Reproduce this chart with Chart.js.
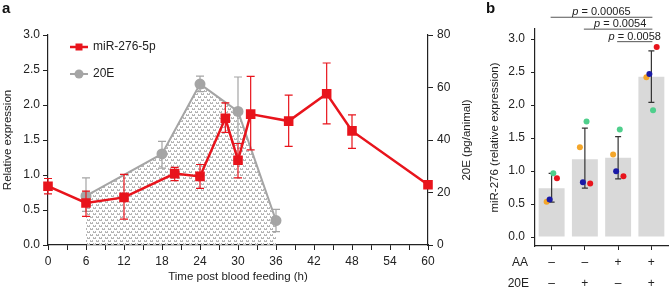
<!DOCTYPE html>
<html>
<head>
<meta charset="utf-8">
<script src="https://cdn.jsdelivr.net/npm/chart.js@4.4.0/dist/chart.umd.min.js"></script>
<style>
  body { margin: 0; background: #fff; width: 672px; height: 289px; overflow: hidden; position: relative;
         font-family: "Liberation Sans", Arial, sans-serif; }
  canvas { position: absolute; top: 0; }
  #chartA { left: 0; }
  #chartB { left: 480px; }
  .panel { position: absolute; font-weight: bold; font-size: 15px; color: #111; }
</style>
</head>
<body>
<canvas id="chartA" width="480" height="289"></canvas>
<canvas id="chartB" width="192" height="289"></canvas>
<div class="panel" style="left:2px;top:-1px">a</div>
<div class="panel" style="left:486px;top:-1px">b</div>
<script>
  const RED = '#e8141c';
  const GRAY = '#a5a5a5';
  const INK = '#222';

  // panel a: miR-276-5p, relative expression
  const mirHours = [0, 6, 12, 20, 24, 28, 30, 32, 38, 44, 48, 60];
  const mirExpr = [0.84, 0.60, 0.68, 1.02, 0.98, 1.81, 1.21, 1.87, 1.77, 2.16, 1.63, 0.86];
  const mirLow = [0.73, 0.41, 0.37, 0.92, 0.81, 1.61, 0.96, 1.36, 1.41, 1.73, 1.38, 0.83];
  const mirHigh = [0.95, 0.77, 1.01, 1.11, 1.15, 2.03, 1.45, 2.41, 2.14, 2.60, 1.86, 0.89];

  // panel a: 20E titre, pg/animal
  const ecdHours = [6, 18, 24, 30, 36];
  const ecdTitre = [18.7, 34.7, 61.3, 50.9, 9.3];
  const ecdLow = [12.8, 29.3, 58.4, 38.7, 5.1];
  const ecdHigh = [25.6, 39.5, 64.3, 64.0, 13.6];

  // panel b: treatment groups
  const aaRow = ['–', '–', '+', '+'];
  const e20Row = ['–', '+', '–', '+'];
  const barMeans = [0.74, 1.18, 1.20, 2.43];
  const barLow = [0.53, 0.74, 0.88, 2.04];
  const barHigh = [0.965, 1.65, 1.52, 2.82];
  const repOrange = [0.535, 1.36, 1.25, 2.42];
  const repBlue = [0.57, 0.83, 0.995, 2.47];
  const repGreen = [0.965, 1.75, 1.63, 1.92];
  const repRed = [0.89, 0.81, 0.92, 2.88];
  const pValues = ['0.00065', '0.0054', '0.0058'];
  const pFrom = [0, 1, 2];
  const pTo = [3, 3, 3];

  Chart.defaults.font.family = "'Liberation Sans', Arial, sans-serif";
  Chart.defaults.color = INK;

  function hatch() {
    const c = document.createElement('canvas');
    c.width = 6; c.height = 6;
    const g = c.getContext('2d');
    g.fillStyle = '#b4b4b4';
    [[0,0],[2,0],[1,1],[0,1],[2,1],[3,3],[5,3],[4,4],[3,4],[5,4]].forEach(([x, y]) => g.fillRect(x, y, 1, 1));
    return g.createPattern(c, 'repeat');
  }

  const errorBars = {
    id: 'errorBars',
    afterDatasetDraw(chart, args) {
      const ds = chart.data.datasets[args.index];
      if (!ds.err) return;
      const meta = args.meta;
      const ys = chart.scales[meta.yAxisID];
      const ctx = chart.ctx;
      ctx.save();
      ctx.strokeStyle = ds.err.color;
      ctx.lineWidth = ds.err.width;
      meta.data.forEach((el, j) => {
        const x = el.x;
        const y1 = ys.getPixelForValue(ds.err.low[j]);
        const y2 = ys.getPixelForValue(ds.err.high[j]);
        const h = ds.err.cap / 2;
        ctx.beginPath();
        ctx.moveTo(x, y1); ctx.lineTo(x, y2);
        ctx.moveTo(x - h, y1); ctx.lineTo(x + h, y1);
        ctx.moveTo(x - h, y2); ctx.lineTo(x + h, y2);
        ctx.stroke();
      });
      ctx.restore();
    }
  };

  // legend inside panel a + right axis title
  const extrasA = {
    id: 'extrasA',
    afterDraw(chart) {
      const ctx = chart.ctx;
      ctx.save();
      const rows = [47, 74];
      chart.data.datasets.forEach((ds, i) => {
        const y = rows[i];
        ctx.strokeStyle = ds.borderColor;
        ctx.lineWidth = ds.borderWidth;
        ctx.beginPath(); ctx.moveTo(70, y); ctx.lineTo(88, y); ctx.stroke();
        ctx.fillStyle = ds.pointBackgroundColor;
        if (ds.pointStyle === 'rect') ctx.fillRect(75.5, y - 3.5, 7, 7);
        else { ctx.beginPath(); ctx.arc(79, y, 4.5, 0, Math.PI * 2); ctx.fill(); }
        ctx.fillStyle = INK;
        ctx.font = "12px 'Liberation Sans', Arial, sans-serif";
        ctx.textBaseline = 'middle';
        ctx.fillText(ds.label, 93, y);
      });
      const y2 = chart.scales.y2;
      ctx.translate(y2.right - 13, (chart.chartArea.top + chart.chartArea.bottom) / 2);
      ctx.rotate(-Math.PI / 2);
      ctx.textAlign = 'center';
      ctx.textBaseline = 'middle';
      ctx.font = "11.5px 'Liberation Sans', Arial, sans-serif";
      ctx.fillText('20E (pg/animal)', 0, 0);
      ctx.restore();
    }
  };

  const axisGrid = { display: true, drawOnChartArea: false, drawTicks: true, tickLength: 5, color: INK, tickColor: INK, lineWidth: 1 };
  const axisBorder = { display: true, color: INK, width: 1.2 };

  new Chart(document.getElementById('chartA'), {
    type: 'line',
    data: {
      datasets: [
        {
          label: 'miR-276-5p',
          data: mirHours.map((h, i) => ({ x: h, y: mirExpr[i] })),
          yAxisID: 'y',
          borderColor: RED,
          backgroundColor: RED,
          pointBackgroundColor: RED,
          pointBorderColor: RED,
          borderWidth: 2.5,
          pointStyle: 'rect',
          pointRadius: 5,
          tension: 0,
          fill: false,
          clip: false,
          order: 0,
          err: { low: mirLow, high: mirHigh, color: RED, width: 1.2, cap: 8 }
        },
        {
          label: '20E',
          data: ecdHours.map((h, i) => ({ x: h, y: ecdTitre[i] })),
          yAxisID: 'y2',
          borderColor: GRAY,
          backgroundColor: hatch(),
          pointBackgroundColor: GRAY,
          pointBorderColor: GRAY,
          borderWidth: 2,
          pointStyle: 'circle',
          pointRadius: 4.5,
          tension: 0,
          fill: 'origin',
          clip: false,
          order: 1,
          err: { low: ecdLow, high: ecdHigh, color: GRAY, width: 1.2, cap: 8 }
        }
      ]
    },
    options: {
      responsive: false,
      animation: false,
      layout: { padding: { top: 35, left: 0, right: 0, bottom: 0 } },
      plugins: { legend: { display: false }, tooltip: { enabled: false } },
      scales: {
        x: {
          type: 'linear', min: 0, max: 60,
          grid: axisGrid, border: axisBorder,
          ticks: { stepSize: 3, autoSkip: false, maxRotation: 0, padding: 4, font: { size: 12 },
                   callback: v => (v % 6 === 0 ? v : '') },
          title: { display: true, text: 'Time post blood feeding (h)', font: { size: 11.5 }, padding: { top: 0, bottom: 5 } },
          afterFit: s => { s.height = 44; s.paddingLeft = 0; s.paddingRight = 0; }
        },
        y: {
          position: 'left', min: 0, max: 3,
          grid: axisGrid, border: axisBorder,
          ticks: { stepSize: 0.5, padding: 3, font: { size: 12 }, callback: v => v.toFixed(1) },
          title: { display: true, text: 'Relative expression', font: { size: 11.5 }, padding: { top: 1, bottom: 0 } },
          afterFit: s => { s.width = 48; s.paddingTop = 0; s.paddingBottom = 0; }
        },
        y2: {
          position: 'right', min: 0, max: 80,
          grid: axisGrid, border: axisBorder,
          ticks: { stepSize: 20, padding: 4, font: { size: 12 } },
          afterFit: s => { s.width = 52; s.paddingTop = 0; s.paddingBottom = 0; }
        }
      }
    },
    plugins: [errorBars, extrasA]
  });

  // p-value brackets and row titles for panel b
  const bracketLevels = [3.33, 3.15, 2.96];
  const extrasB = {
    id: 'extrasB',
    afterDraw(chart) {
      const ctx = chart.ctx;
      const xs = chart.scales.x, ys = chart.scales.y;
      ctx.save();
      pValues.forEach((p, i) => {
        const x1 = xs.getPixelForValue(pFrom[i]) - 1;
        const x2 = xs.getPixelForValue(pTo[i]) + 1;
        const y = ys.getPixelForValue(bracketLevels[i]);
        ctx.strokeStyle = '#555';
        ctx.lineWidth = 1;
        ctx.beginPath(); ctx.moveTo(x1, y); ctx.lineTo(x2, y); ctx.stroke();
        ctx.fillStyle = INK;
        ctx.textBaseline = 'alphabetic';
        ctx.font = "italic 11px 'Liberation Sans', Arial, sans-serif";
        const w1 = ctx.measureText('p').width;
        ctx.font = "11px 'Liberation Sans', Arial, sans-serif";
        const rest = ' = ' + p;
        const w2 = ctx.measureText(rest).width;
        const cx = (x1 + x2) / 2 + (i === 1 ? 2 : 0);
        const start = cx - (w1 + w2) / 2;
        ctx.font = "italic 11px 'Liberation Sans', Arial, sans-serif";
        ctx.fillText('p', start, y - 2);
        ctx.font = "11px 'Liberation Sans', Arial, sans-serif";
        ctx.fillText(rest, start + w1, y - 2);
      });
      ctx.font = "12px 'Liberation Sans', Arial, sans-serif";
      ctx.textAlign = 'right';
      ctx.textBaseline = 'middle';
      const yRow = xs.top + 4 + 2 + 10.5;
      ctx.fillText('AA', 48, yRow);
      ctx.fillText('20E', 49, yRow + 21);
      ctx.restore();
    }
  };

  const jitterOrange = -0.15, jitterBlue = -0.06, jitterGreen = 0.05, jitterRed = 0.16;
  const dots = (vals, dx, color, order) => ({
    type: 'scatter',
    data: vals.map((v, i) => ({ x: i + dx, y: v })),
    backgroundColor: color,
    borderWidth: 0,
    pointRadius: 3,
    clip: false,
    order: order
  });

  new Chart(document.getElementById('chartB'), {
    type: 'bar',
    data: {
      datasets: [
        {
          data: barMeans.map((v, i) => ({ x: i, y: v })),
          backgroundColor: '#d9d9d9',
          barPercentage: 0.78,
          categoryPercentage: 1,
          grouped: false,
          order: 9,
          err: { low: barLow, high: barHigh, color: '#333', width: 1.2, cap: 6 }
        },
        dots(repOrange, jitterOrange, '#f4a62a', 4),
        dots(repBlue, jitterBlue, '#1a1aa6', 3),
        dots(repGreen, jitterGreen, '#4fcf8c', 2),
        dots(repRed, jitterRed, '#e8141c', 1)
      ]
    },
    options: {
      responsive: false,
      animation: false,
      layout: { padding: { top: 29, right: 4, left: 0, bottom: 0 } },
      plugins: { legend: { display: false }, tooltip: { enabled: false } },
      scales: {
        x: {
          type: 'linear', min: -0.5, max: 3.5, offset: false,
          grid: { display: true, drawOnChartArea: false, drawTicks: true, tickLength: 4, offset: false, color: INK, tickColor: INK },
          border: axisBorder,
          afterBuildTicks: s => { s.ticks = aaRow.map((_, i) => ({ value: i })); },
          ticks: { padding: 2, maxRotation: 0, autoSkip: false,
                   font: { size: 12, lineHeight: 1.75 },
                   callback: v => [aaRow[v], e20Row[v]] },
          afterFit: s => { s.height = 43; s.paddingLeft = 0; s.paddingRight = 0; }
        },
        y: {
          min: -0.136, max: 3.152,
          grid: { display: true, drawOnChartArea: false, drawTicks: true, tickLength: 4, color: INK, tickColor: INK },
          border: axisBorder,
          ticks: { stepSize: 0.5, includeBounds: false, padding: 6, font: { size: 12 }, callback: v => v.toFixed(1) },
          title: { display: true, text: 'miR-276 (relative expression)', font: { size: 11.5 }, padding: { top: 8, bottom: 0 } },
          afterFit: s => { s.width = 55; s.paddingTop = 0; s.paddingBottom = 0; }
        }
      }
    },
    plugins: [errorBars, extrasB]
  });
</script>
</body>
</html>
